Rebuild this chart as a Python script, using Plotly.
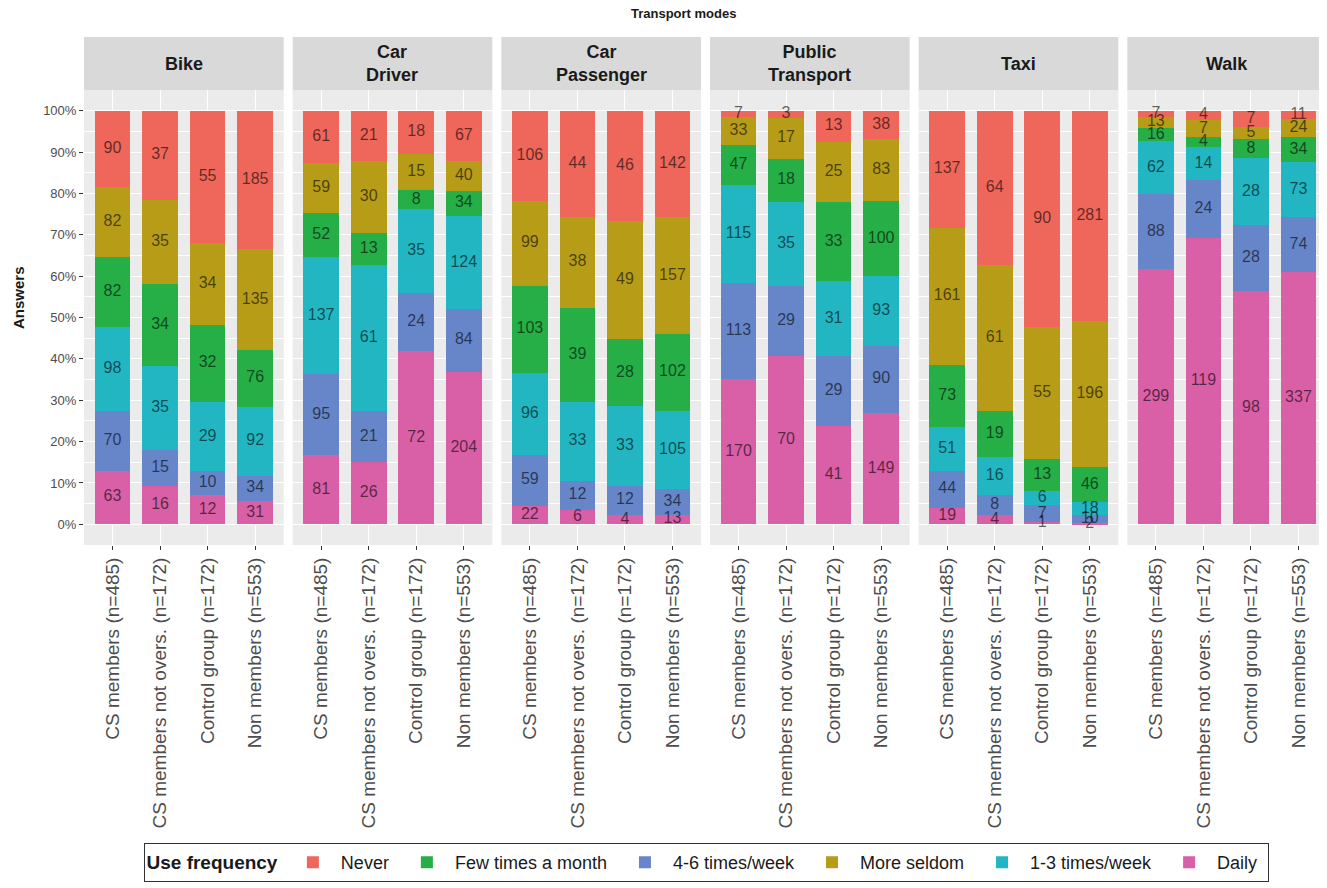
import plotly.graph_objects as go
from plotly.subplots import make_subplots

modes = ["Bike", "Car<br>Driver", "Car<br>Passenger", "Public<br>Transport", "Taxi", "Walk"]
groups = [
    "CS members (n=485)",
    "CS members not overs. (n=172)",
    "Control group (n=172)",
    "Non members (n=553)",
]

# answers per transport mode, each inner list follows `groups`
daily = [[63, 16, 12, 31], [81, 26, 72, 204], [22, 6, 4, 13], [170, 70, 41, 149], [19, 4, 1, 2], [299, 119, 98, 337]]
four_six = [[70, 15, 10, 34], [95, 21, 24, 84], [59, 12, 12, 34], [113, 29, 29, 90], [44, 8, 7, 10], [88, 24, 28, 74]]
one_three = [[98, 35, 29, 92], [137, 61, 35, 124], [96, 33, 33, 105], [115, 35, 31, 93], [51, 16, 6, 18], [62, 14, 28, 73]]
few_month = [[82, 34, 32, 76], [52, 13, 8, 34], [103, 39, 28, 102], [47, 18, 33, 100], [73, 19, 13, 46], [16, 4, 8, 34]]
more_seldom = [[82, 35, 34, 135], [59, 30, 15, 40], [99, 38, 49, 157], [33, 17, 25, 83], [161, 61, 55, 196], [13, 7, 5, 24]]
never = [[90, 37, 55, 185], [61, 21, 18, 67], [106, 44, 46, 142], [7, 3, 13, 38], [137, 64, 90, 281], [7, 4, 7, 11]]

# stacked bottom -> top; rank = legend position
series = [
    ("Daily", daily, "#D95FA6", 6),
    ("4-6 times/week", four_six, "#6786C9", 3),
    ("1-3 times/week", one_three, "#22B6C3", 5),
    ("Few times a month", few_month, "#26AE47", 2),
    ("More seldom", more_seldom, "#B69C17", 4),
    ("Never", never, "#EF665B", 1),
]

FONT = "Liberation Sans, Arial, sans-serif"
OFF = 8  # default page margin around the plot div
W, H = 1327 - OFF, 888 - OFF
L, R, T, B = 84 - OFF, 0, 37 - OFF, 888 - 545
plot_w = W - L - R
plot_h = H - T - B
gap = 9
dom_top = 455 / plot_h


def px_x(x):
    return (x - OFF - L) / plot_w


def px_y(y):
    return (T + plot_h - (y - OFF)) / plot_h


fig = make_subplots(rows=1, cols=6, shared_yaxes=True, horizontal_spacing=gap / plot_w)

for m in range(len(modes)):
    totals = [sum(s[1][m][g] for s in series) for g in range(len(groups))]
    base = [0.0] * len(groups)
    txt_x, txt_y, txt = [], [], []
    for name, vals, color, rank in series:
        share = [vals[m][g] / totals[g] for g in range(len(groups))]
        fig.add_trace(
            go.Bar(
                x=groups,
                y=share,
                name=name + "&nbsp;",
                marker=dict(color=color, line_width=0),
                width=0.75,
                showlegend=(m == 0),
                legendgroup=name,
                legendrank=rank,
                hovertemplate=name + ": %{customdata}<extra></extra>",
                customdata=vals[m],
            ),
            row=1,
            col=m + 1,
        )
        for g in range(len(groups)):
            txt_x.append(groups[g])
            txt_y.append(base[g] + share[g] / 2)
            txt.append(str(vals[m][g]))
            base[g] += share[g]
    fig.add_trace(
        go.Scatter(
            x=txt_x,
            y=txt_y,
            text=txt,
            mode="text",
            textfont=dict(family=FONT, size=16, color="rgba(0,0,0,0.6)"),
            showlegend=False,
            hoverinfo="skip",
        ),
        row=1,
        col=m + 1,
    )

    axis_id = "" if m == 0 else str(m + 1)
    # strip header
    fig.add_shape(
        type="rect",
        xref=f"x{axis_id} domain",
        yref="paper",
        x0=0,
        x1=1,
        y0=dom_top,
        y1=1,
        fillcolor="#D9D9D9",
        line_width=0,
        layer="below",
    )
    fig.add_annotation(
        text=f"<b>{modes[m]}</b>",
        xref=f"x{axis_id} domain",
        yref="paper",
        x=0.5,
        y=(dom_top + 1) / 2,
        xanchor="center",
        yanchor="middle",
        showarrow=False,
        font=dict(family=FONT, size=18, color="#1A1A1A"),
    )

fig.update_xaxes(
    categoryorder="array",
    categoryarray=groups,
    range=[-0.6, 3.6],
    tickangle=-90,
    tickfont=dict(family=FONT, size=19, color="#4D4D4D"),
    ticks="outside",
    ticklen=4,
    tickcolor="#333333",
    showgrid=True,
    gridcolor="white",
    gridwidth=1,
    zeroline=False,
    showline=False,
    automargin=False,
)
fig.update_yaxes(
    domain=[0, dom_top],
    range=[-0.05, 1.05],
    tickvals=[i / 10 for i in range(11)],
    ticktext=[f"{i * 10}%" for i in range(11)],
    showgrid=True,
    gridcolor="white",
    gridwidth=1,
    minor=dict(
        tickvals=[i / 10 + 0.05 for i in range(10)],
        showgrid=True,
        gridcolor="white",
        gridwidth=0.5,
        ticklen=0,
    ),
    zeroline=False,
    showline=False,
    automargin=False,
)
fig.update_yaxes(
    ticks="outside",
    ticklen=4,
    tickcolor="#333333",
    tickfont=dict(family=FONT, size=13, color="#4D4D4D"),
    row=1,
    col=1,
)

fig.add_annotation(
    text="<b>Transport modes</b>",
    xref="paper",
    yref="paper",
    x=px_x(683),
    y=px_y(13),
    xanchor="center",
    yanchor="middle",
    showarrow=False,
    font=dict(family=FONT, size=13, color="#1A1A1A"),
)
fig.add_annotation(
    text="<b>Answers</b>",
    xref="paper",
    yref="paper",
    x=px_x(18),
    y=px_y(298),
    xanchor="center",
    yanchor="middle",
    textangle=-90,
    showarrow=False,
    font=dict(family=FONT, size=15, color="#1A1A1A"),
)

fig.update_layout(
    width=W,
    height=H,
    margin=dict(l=L, r=R, t=T, b=B, autoexpand=False),
    barmode="stack",
    bargap=0.25,
    plot_bgcolor="#EBEBEB",
    paper_bgcolor="white",
    font=dict(family=FONT, color="#1A1A1A"),
    legend=dict(
        orientation="h",
        x=px_x(706),
        xanchor="center",
        y=px_y(843),
        yanchor="top",
        title=dict(text="<b>Use frequency</b>", font=dict(family=FONT, size=19)),
        font=dict(family=FONT, size=18, color="#1A1A1A"),
        bordercolor="#333333",
        borderwidth=1,
        bgcolor="white",
        itemwidth=46,
    ),
)

fig.write_html("out.html")
